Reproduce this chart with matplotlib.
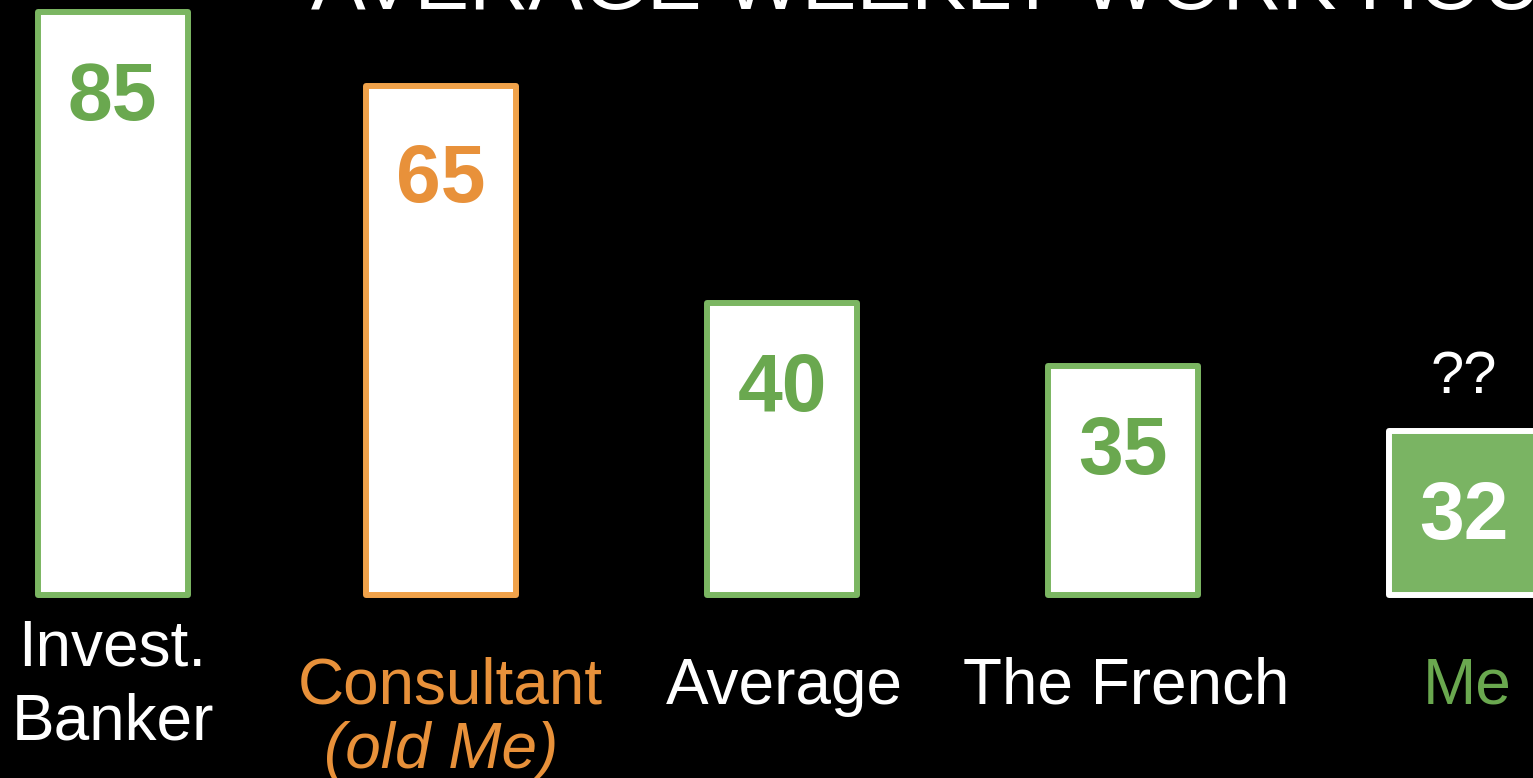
import matplotlib.pyplot as plt
import matplotlib.transforms as mtransforms

plt.rcParams['font.family'] = ['Liberation Sans', 'DejaVu Sans']

# values from the picture
categories = ["Invest.\nBanker", "Consultant", "Average", "The French", "Me"]
hours = [85, 65, 40, 35, 32]
# drawn bar heights (the original is not drawn to scale)
bar_heights = [85, 74.2, 42.6, 33.4, 23.9]
title = "AVERAGE WEEKLY WORK HOURS"

green = "#7bb662"
green_text = "#6aa84f"
orange = "#f0a24a"
orange_text = "#e8913a"

edge_colors = [green, orange, green, green, "white"]
fill_colors = ["white", "white", "white", "white", "#7ab463"]
value_colors = [green_text, orange_text, green_text, green_text, "white"]
label_colors = ["white", orange_text, "white", "white", green_text]

W, H = 1533, 778
fig = plt.figure(figsize=(W / 100, H / 100), dpi=100, facecolor="black")
ax = fig.add_axes([0, 0, 1, 1])
ax.set_facecolor("black")

# first column sits a little closer to the second one in the original
x = [0.037, 1, 2, 3, 4]
ax.bar(x, bar_heights, width=0.44, color=fill_colors, edgecolor=edge_colors,
       linewidth=4.3, joinstyle="round")

# value inside each bar, a bit below its top (the 65 sits lower in the original)
value_offsets = [-78, -84, -78, -78, -78]
for i, h in enumerate(bar_heights):
    ax.annotate(str(hours[i]), (x[i], h), xytext=(0, value_offsets[i]),
                textcoords="offset points", ha="center", va="baseline",
                fontsize=58, fontweight="bold", color=value_colors[i])

# 1 unit = 341 px, column 1 centred at 441 px
ax.set_xlim(-441 / 341 + 1, 1 + (W - 441) / 341)
ax.set_ylim(-26.7, 86.7)
ax.axis("off")

# labels under the bars: x in data, y in figure pixels from the top
trans = mtransforms.blended_transform_factory(ax.transData, fig.transFigure)
def fy(px):
    return 1 - px / H

ax.text(x[0], fy(666), "Invest.", transform=trans, ha="center", va="baseline",
        fontsize=46, color=label_colors[0])
ax.text(x[0], fy(740), "Banker", transform=trans, ha="center", va="baseline",
        fontsize=46, color=label_colors[0])
for i in range(1, len(categories)):
    shift = 0.026 if i == 1 else 0.008
    ax.text(x[i] + shift, fy(704), categories[i], transform=trans, ha="center",
            va="baseline", fontsize=46, color=label_colors[i])
ax.text(x[1], fy(768), "(old Me)", transform=trans, ha="center", va="baseline",
        fontsize=46, style="italic", color=label_colors[1])

ax.text(x[4], fy(393), "??", transform=trans, ha="center", va="baseline",
        fontsize=43, color="white")

fig.text(311 / W, fy(9), title, ha="left", va="baseline", fontsize=59, color="white")

fig.savefig("out.png", dpi=100, facecolor="black")
